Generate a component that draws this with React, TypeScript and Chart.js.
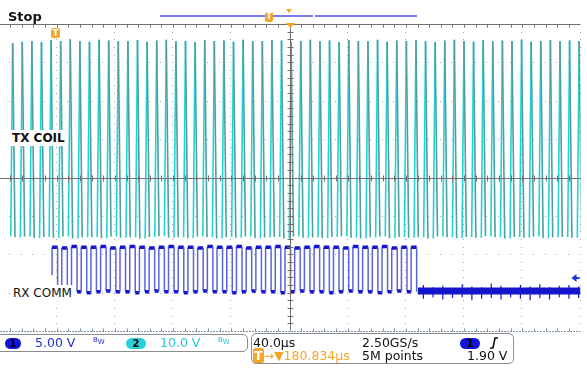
import React, { useEffect, useRef } from "react";
import { Chart, registerables } from "chart.js";
Chart.register(...registerables);

// ---- scope settings ----
const US_PER_DIV = 40;
const X_MIN_US = -199;
const X_MAX_US = 200;
const CH1_VOLTS_PER_DIV = 5;
const CH2_VOLTS_PER_DIV = 10;
const CH1_OFFSET_DIV = -3.0;
const CH2_OFFSET_DIV = 1.0;
const TRIGGER_LEVEL_V = 1.9;

// ---- TX COIL (channel 2) : one swing per cycle ----
const txStartUs = -191.6;
const txPeriodUs = 6.6;
const txRiseUs = 1.3;
const txSwingUs = 2.9;
const txPeakV = [25.0, 25.4, 25.6, 25.3, 25.8, 25.5, 26.0, 25.6, 25.4, 25.9, 25.7, 25.5, 25.6, 25.8, 25.4, 25.7, 25.9, 25.5, 25.6, 25.3, 25.8, 25.6, 25.7, 25.4, 25.9, 25.5, 25.6, 25.8, 25.7, 25.4, 25.6, 25.9, 25.5, 25.7, 25.3, 25.8, 25.6, 25.5, 25.9, 25.4, 25.7, 25.6, 25.8, 25.5, 25.3, 25.7, 25.9, 25.6, 25.4, 25.8, 25.5, 25.7, 25.6, 25.9, 25.4, 25.6, 25.8, 25.5, 25.7, 25.6];
const txTroughV = [-25.3, -25.6, -25.4, -25.8, -25.5, -25.7, -25.4, -25.9, -25.6, -25.5, -25.8, -25.4, -25.7, -25.6, -25.9, -25.5, -25.3, -25.7, -25.6, -25.8, -25.4, -25.6, -25.9, -25.5, -25.7, -25.4, -25.8, -25.6, -25.5, -25.9, -25.4, -25.7, -25.6, -25.8, -25.5, -25.3, -25.7, -25.9, -25.6, -25.4, -25.8, -25.5, -25.7, -25.6, -25.9, -25.4, -25.6, -25.8, -25.5, -25.7, -25.3, -25.6, -25.9, -25.5, -25.7, -25.4, -25.8, -25.6, -25.5, -25.7];

// ---- RX COMM (channel 1) : modulation burst, then idle ----
const rxStartUs = -163.2;
const rxPeriodUs = 6.67;
const rxHighUs = 3.8;
const rxHighV = [5.9, 5.8, 6.0, 5.9, 5.9, 6.0, 5.8, 5.9, 6.0, 5.9, 5.8, 5.9, 6.0, 5.9, 5.9, 5.8, 6.0, 5.9, 5.9, 6.0, 5.8, 5.9, 5.9, 6.0, 5.9, 5.8, 5.9, 6.0, 5.9, 5.9, 5.8, 6.0, 5.9, 5.9, 6.0, 5.8, 5.9, 5.9];
const rxLowV = [0.1, 0.2, 0.1, 0.0, 0.1, 0.2, 0.1, 0.1, 0.0, 0.1, 0.2, 0.1, 0.1, 0.0, 0.1, 0.2, 0.1, 0.1, 0.0, 0.1, 0.2, 0.1, 0.1, 0.0, 0.1, 0.2, 0.1, 0.1, 0.0, 0.1, 0.2, 0.1, 0.1, 0.0, 0.1, 0.2, 0.1, 0.1];
const rxIdleStartUs = 88.3;
const rxIdleLevelV = 0.2;
const rxIdleSpikeStartUs = 92.0;
const rxIdleSpikeUp = [1.0, 0.7, 0.9, 0.6, 1.1, 0.8, 0.7, 1.2, 0.9, 0.6, 1.0, 0.8, 1.1, 0.7, 0.9, 1.0, 0.8];
const rxIdleSpikeDown = [-0.8, -0.6, -0.9, -0.7, -0.6, -1.0, -0.8, -0.7, -0.9, -0.6, -0.8, -1.0, -0.7, -0.9, -0.6, -0.8, -0.7];

const TEAL = "#22d3d6";
const TEAL_DARK = "#4f9ea0";
const BLUE = "#1414cc";
const BLUE_EDGE = "#5a64dc";
const ORANGE = "#f4a62a";

function buildTx() {
  const pts: any[] = [];
  txPeakV.forEach((pk, i) => {
    const t = txStartUs + i * txPeriodUs;
    pts.push({ x: t, y: txTroughV[i] });
    pts.push({ x: t + txRiseUs, y: pk });
    pts.push({ x: t + txSwingUs, y: txTroughV[(i + 1) % txTroughV.length] });
    pts.push({ x: t + txSwingUs + 0.01, y: null });
  });
  return pts;
}

function buildRx() {
  const pts: any[] = [];
  rxHighV.forEach((hi, i) => {
    const t = rxStartUs + i * rxPeriodUs;
    pts.push({ x: t, y: i === 0 ? rxLowV[0] + 2.2 : rxLowV[i - 1] });
    pts.push({ x: t, y: hi });
    pts.push({ x: t + rxHighUs, y: hi });
    pts.push({ x: t + rxHighUs, y: rxLowV[i] });
    if (i < rxHighV.length - 1) pts.push({ x: t + rxPeriodUs, y: rxLowV[i] });
  });
  return pts;
}

function buildIdleSpikes() {
  const pts: any[] = [];
  rxIdleSpikeUp.forEach((up, i) => {
    const t = rxIdleSpikeStartUs + i * rxPeriodUs;
    pts.push({ x: t, y: rxIdleSpikeDown[i] });
    pts.push({ x: t, y: up });
    pts.push({ x: t + 0.01, y: null });
  });
  return pts;
}

const scopePlugin = {
  id: "scope",
  beforeDatasetsDraw(chart: any) {
    const { ctx, chartArea: a, scales } = chart;
    const x = scales.x;
    const divH = (a.bottom - a.top) / 8;
    ctx.save();
    ctx.fillStyle = "#a6a6a6";
    for (let i = -5; i <= 5; i++) {
      if (i === 0) continue;
      const px = Math.round(x.getPixelForValue(i * US_PER_DIV));
      if (px < a.left || px > a.right + 1) continue;
      for (let j = 1; j < 40; j++) {
        const py = Math.round(a.top + (j * divH) / 5);
        ctx.fillRect(px - 1, py, 1, 1);
      }
    }
    for (let r = 1; r < 8; r++) {
      if (r === 4) continue;
      const py = Math.round(a.top + r * divH);
      for (let m = -25; m <= 25; m++) {
        const px = Math.round(x.getPixelForValue((m * US_PER_DIV) / 5));
        if (px < a.left || px > a.right + 1) continue;
        ctx.fillRect(px - 1, py, 1, 1);
      }
    }
    ctx.restore();
  },
  afterDatasetsDraw(chart: any) {
    const { ctx, chartArea: a, scales } = chart;
    const x = scales.x;
    const divH = (a.bottom - a.top) / 8;
    const cx = Math.round(x.getPixelForValue(0)) + 0.5;
    const cy = Math.round(a.top + 4 * divH) + 0.5;
    ctx.save();
    ctx.strokeStyle = "#707070";
    ctx.lineWidth = 1;
    ctx.beginPath();
    ctx.moveTo(cx, a.top);
    ctx.lineTo(cx, a.bottom);
    ctx.moveTo(a.left, cy);
    ctx.lineTo(a.right, cy);
    for (let j = 1; j < 40; j++) {
      const py = Math.round(a.top + (j * divH) / 5) + 0.5;
      ctx.moveTo(cx - 3, py);
      ctx.lineTo(cx + 3, py);
    }
    for (let m = -25; m <= 25; m++) {
      const px = Math.round(x.getPixelForValue((m * US_PER_DIV) / 5)) + 0.5;
      if (px < a.left || px > a.right) continue;
      ctx.moveTo(px, cy - 3);
      ctx.lineTo(px, cy + 3);
    }
    ctx.stroke();
    const ty = Math.round(a.top) + 0.5;
    ctx.strokeStyle = "#6e6e6e";
    ctx.beginPath();
    ctx.moveTo(a.left, ty);
    ctx.lineTo(a.right, ty);
    for (let m = -25; m <= 25; m++) {
      const px = Math.round(x.getPixelForValue((m * US_PER_DIV) / 5)) + 0.5;
      if (px < a.left || px > a.right) continue;
      ctx.moveTo(px, ty);
      ctx.lineTo(px, ty + 3);
    }
    ctx.stroke();
    const by = Math.round(a.bottom) + 0.5;
    ctx.strokeStyle = "#7f93a8";
    ctx.setLineDash([2, 1]);
    ctx.beginPath();
    ctx.moveTo(a.left, by);
    ctx.lineTo(a.right, by);
    ctx.stroke();
    ctx.setLineDash([]);
    ctx.beginPath();
    for (let m = -25; m <= 25; m++) {
      const px = Math.round(x.getPixelForValue((m * US_PER_DIV) / 5)) + 0.5;
      if (px < a.left || px > a.right) continue;
      ctx.moveTo(px, by);
      ctx.lineTo(px, by - 3);
    }
    ctx.stroke();
    ctx.fillStyle = ORANGE;
    ctx.beginPath();
    ctx.moveTo(cx - 5, a.top - 1);
    ctx.lineTo(cx + 5, a.top - 1);
    ctx.lineTo(cx, a.top + 4);
    ctx.closePath();
    ctx.fill();
    const ly = scales.y1.getPixelForValue(TRIGGER_LEVEL_V);
    ctx.fillStyle = "#1e2ee0";
    ctx.beginPath();
    ctx.moveTo(a.right - 9, ly);
    ctx.lineTo(a.right - 4, ly - 4);
    ctx.lineTo(a.right - 4, ly + 4);
    ctx.closePath();
    ctx.fill();
    ctx.fillRect(a.right - 5, ly - 1, 4, 2);
    ctx.restore();
  },
};

export default function App() {
  const ref = useRef<HTMLCanvasElement>(null);
  useEffect(() => {
    if (!ref.current) return;
    const chart = new Chart(ref.current, {
      type: "line",
      data: {
        datasets: [
          {
            data: buildTx(),
            yAxisID: "y2",
            borderColor: TEAL,
            borderWidth: 1.6,
            spanGaps: false,
            segment: {
              borderColor: (c: any) => (c.p1.parsed.y > c.p0.parsed.y ? TEAL : TEAL_DARK),
            },
          } as any,
          {
            data: buildRx(),
            yAxisID: "y1",
            borderColor: BLUE_EDGE,
            borderWidth: 1.5,
            segment: {
              borderColor: (c: any) => (c.p1.parsed.y === c.p0.parsed.y ? BLUE : BLUE_EDGE),
              borderWidth: (c: any) => (c.p1.parsed.y === c.p0.parsed.y ? 3.5 : 1.5),
            },
          } as any,
          {
            data: [
              { x: rxIdleStartUs, y: rxIdleLevelV },
              { x: X_MAX_US, y: rxIdleLevelV },
            ],
            yAxisID: "y1",
            borderColor: BLUE,
            borderWidth: 7,
            borderCapStyle: "butt",
          } as any,
          {
            data: buildIdleSpikes(),
            yAxisID: "y1",
            borderColor: BLUE,
            borderWidth: 1.2,
            spanGaps: false,
          } as any,
        ],
      },
      options: {
        animation: false,
        responsive: false,
        events: [],
        layout: { padding: { left: 0, right: 6.5, top: 24, bottom: 38 } },
        plugins: { legend: { display: false }, tooltip: { enabled: false } },
        elements: { point: { radius: 0 }, line: { tension: 0 } },
        scales: {
          x: { type: "linear", min: X_MIN_US, max: X_MAX_US, display: false },
          y1: {
            type: "linear",
            min: (-4 - CH1_OFFSET_DIV) * CH1_VOLTS_PER_DIV,
            max: (4 - CH1_OFFSET_DIV) * CH1_VOLTS_PER_DIV,
            display: false,
          },
          y2: {
            type: "linear",
            min: (-4 - CH2_OFFSET_DIV) * CH2_VOLTS_PER_DIV,
            max: (4 - CH2_OFFSET_DIV) * CH2_VOLTS_PER_DIV,
            display: false,
          },
        },
      } as any,
      plugins: [scopePlugin],
    });
    return () => chart.destroy();
  }, []);

  const font = '"DejaVu Sans", sans-serif';
  const abs = (l: number, t: number, extra: any = {}) => ({
    position: "absolute" as const,
    left: l,
    top: t,
    lineHeight: 1,
    whiteSpace: "nowrap" as const,
    fontFamily: font,
    ...extra,
  });
  const pill = (l: number, t: number, w: number, bg: string, txt: string) => (
    <div
      style={abs(l, t, {
        width: w,
        height: 11,
        borderRadius: 6,
        background: bg,
        color: "#000",
        fontSize: 10,
        fontWeight: "bold",
        textAlign: "center",
        lineHeight: "11px",
      })}
    >
      {txt}
    </div>
  );

  return (
    <div style={{ position: "absolute", left: 0, top: 0, width: 587, height: 369, background: "#fff", overflow: "hidden" }}>
      <canvas ref={ref} width={587} height={369} style={{ display: "block", width: 587, height: 369 }} />
      <div style={abs(8, 10, { fontSize: 13, fontWeight: "bold", color: "#111" })}>Stop</div>
      <div style={abs(160, 15, { width: 153, height: 2, background: "#7b7bef" })} />
      <div style={abs(315, 15, { width: 102, height: 2, background: "#7b7bef" })} />
      <div style={abs(265, 12, { width: 8, height: 10, background: ORANGE, borderRadius: 2, color: "#fff", fontSize: 8, fontWeight: "bold", textAlign: "center", lineHeight: "10px" })}>T</div>
      <div style={abs(286, 9, { width: 0, height: 0, borderLeft: "3px solid transparent", borderRight: "3px solid transparent", borderTop: `4px solid ${ORANGE}` })} />
      <div style={abs(51, 28, { width: 9, height: 10, background: ORANGE, borderRadius: 2, color: "#fff", fontSize: 9, fontWeight: "bold", textAlign: "center", lineHeight: "10px" })}>T</div>
      <div style={abs(9, 130, { fontSize: 12, fontWeight: "bold", color: "#111", background: "#fff", padding: "2px 3px" })}>TX COIL</div>
      <div style={abs(10, 285, { fontSize: 12, color: "#111", background: "#fff", padding: "2px 3px" })}>RX COMM</div>
      <div style={abs(-6, 334, { width: 252, height: 16, border: "1px solid #8c8c8c", borderRadius: 5 })} />
      {pill(5, 338, 16, "#1414d8", "1")}
      <div style={abs(35, 337, { fontSize: 12.5, color: "#2430d0" })}>5.00 V</div>
      <div style={abs(93, 337, { fontSize: 7, color: "#2430d0" })}>B<sub style={{ fontSize: 7 }}>W</sub></div>
      {pill(126, 338, 20, "#28d0d8", "2")}
      <div style={abs(160, 337, { fontSize: 12.5, color: "#22c8d2" })}>10.0 V</div>
      <div style={abs(218, 337, { fontSize: 7, color: "#22c8d2" })}>B<sub style={{ fontSize: 7 }}>W</sub></div>
      <div style={abs(251, 333, { width: 261, height: 29, border: "1px solid #8c8c8c", borderRadius: 5 })} />
      <div style={abs(253, 337, { fontSize: 12.5, color: "#111" })}>40.0µs</div>
      <div style={abs(362, 337, { fontSize: 12.5, color: "#111" })}>2.50GS/s</div>
      {pill(460, 338, 20, "#1414d8", "1")}
      <svg style={{ position: "absolute", left: 489, top: 337 }} width={10} height={12}>
        <polyline points="1,11 4,11 6,1 9,1" fill="none" stroke="#111" strokeWidth={1.6} />
      </svg>
      <div style={abs(253, 350, { fontSize: 12.5, color: ORANGE })}>
        <span style={{ background: ORANGE, color: "#fff", fontWeight: "bold", padding: "0 1px", borderRadius: 2 }}>T</span>→▼180.834µs
      </div>
      <div style={abs(362, 350, { fontSize: 12.5, color: "#111" })}>5M points</div>
      <div style={abs(467, 350, { fontSize: 12.5, color: "#111" })}>1.90 V</div>
    </div>
  );
}
